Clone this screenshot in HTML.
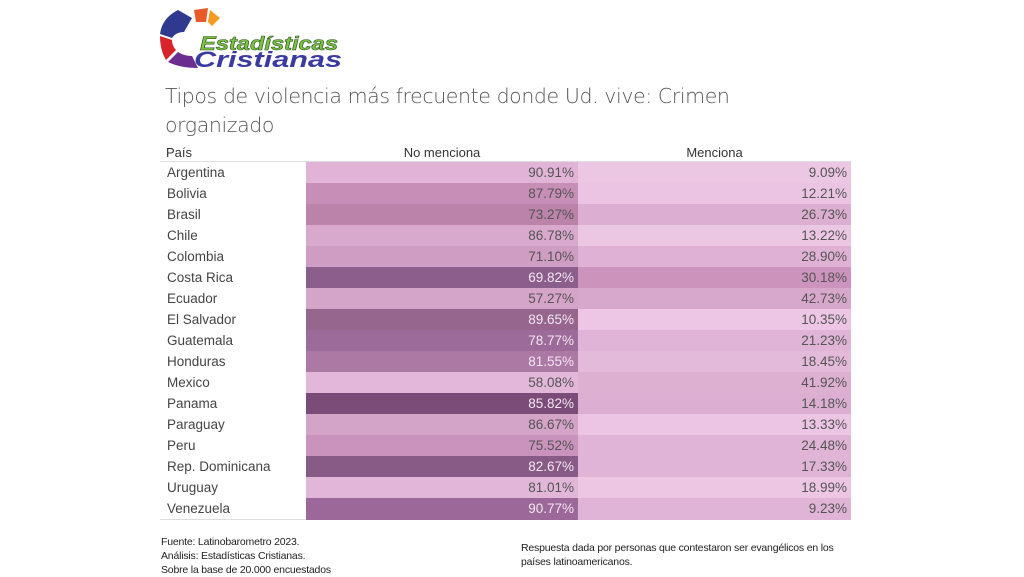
<!DOCTYPE html>
<html><head><meta charset="utf-8"><style>
body{margin:0;width:1024px;height:576px;background:#fff;position:relative;overflow:hidden;font-family:"Liberation Sans Narrow","Liberation Sans",sans-serif;}
.t{position:absolute;left:165px;top:82px;font-family:"DejaVu Sans","Liberation Sans",sans-serif;font-size:20.5px;color:#555;line-height:29px;font-weight:300;letter-spacing:-0.4px}
table{position:absolute;left:160px;top:144px;border-collapse:collapse;font-size:13.5px;color:#444}
td{height:21px;padding:0;line-height:21px}
td.n{width:146px;padding-left:7px;box-sizing:border-box;border-bottom:0}
td.a{width:272px;text-align:right;padding-right:4px;box-sizing:border-box;color:#555}
td.b{width:273px;text-align:right;padding-right:4px;box-sizing:border-box;color:#555}
th{font-weight:normal;height:15px;line-height:15px;font-size:13px;color:#333;border-bottom:1px solid #ddd}
.w{color:#f3e6f0!important}
.f{position:absolute;font-size:10.5px;color:#222;line-height:14px;font-family:"Liberation Sans Narrow","Liberation Sans",sans-serif;letter-spacing:-0.2px}
</style></head><body>
<svg style="position:absolute;left:158px;top:6px" width="200" height="62" viewBox="0 0 200 62">
<path d="M20 4 L34 12 L26 26 Q18 26 14 32 L2 28 Q4 12 20 4Z" fill="#2f3a8f"/>
<path d="M36 4 L50 2 L48 16 L38 16Z" fill="#e85a2a"/>
<path d="M52 4 L62 12 L54 20 L50 16Z" fill="#f59a20"/>
<path d="M2 30 L14 34 Q14 40 18 44 L8 54 Q2 44 2 30Z" fill="#d8232a"/>
<path d="M20 46 Q26 50 34 50 L40 62 Q22 62 10 56Z" fill="#6b2d8f"/>
<text x="42" y="44" font-family="Liberation Sans" font-weight="bold" font-style="italic" font-size="19" fill="#7dc242" stroke="#2a5a20" stroke-width="0.6" textLength="138" lengthAdjust="spacingAndGlyphs">Estadísticas</text>
<text x="36" y="61" font-family="Liberation Sans" font-weight="bold" font-style="italic" font-size="22" fill="#3a3aa0" textLength="148" lengthAdjust="spacingAndGlyphs">Cristianas</text>
</svg>
<div class="t">Tipos de violencia más frecuente donde Ud. vive: Crimen<br>organizado</div>
<table>
<tr><th style="text-align:left;padding-left:6px">País</th><th>No menciona</th><th>Menciona</th></tr>
<tr><td class="n">Argentina</td><td class="a" style="background:#e1b4d7">90.91%</td><td class="b" style="background:#ecc7e4">9.09%</td></tr>
<tr><td class="n">Bolivia</td><td class="a" style="background:#c78eb8">87.79%</td><td class="b" style="background:#eac4e2">12.21%</td></tr>
<tr><td class="n">Brasil</td><td class="a" style="background:#bb82aa">73.27%</td><td class="b" style="background:#dcaed1">26.73%</td></tr>
<tr><td class="n">Chile</td><td class="a" style="background:#d9a9cd">86.78%</td><td class="b" style="background:#ecc7e4">13.22%</td></tr>
<tr><td class="n">Colombia</td><td class="a" style="background:#cf9cc3">71.10%</td><td class="b" style="background:#dfb2d5">28.90%</td></tr>
<tr><td class="n">Costa Rica</td><td class="a w" style="background:#8c5e8c">69.82%</td><td class="b" style="background:#cc94bc">30.18%</td></tr>
<tr><td class="n">Ecuador</td><td class="a" style="background:#d5a4c9">57.27%</td><td class="b" style="background:#d8a8cc">42.73%</td></tr>
<tr><td class="n">El Salvador</td><td class="a w" style="background:#96668f">89.65%</td><td class="b" style="background:#ecc6e4">10.35%</td></tr>
<tr><td class="n">Guatemala</td><td class="a w" style="background:#9d6b99">78.77%</td><td class="b" style="background:#e0b4d6">21.23%</td></tr>
<tr><td class="n">Honduras</td><td class="a w" style="background:#ac78a4">81.55%</td><td class="b" style="background:#e4bada">18.45%</td></tr>
<tr><td class="n">Mexico</td><td class="a" style="background:#e3b7d9">58.08%</td><td class="b" style="background:#ddb0d2">41.92%</td></tr>
<tr><td class="n">Panama</td><td class="a w" style="background:#7a4c77">85.82%</td><td class="b" style="background:#dcafd2">14.18%</td></tr>
<tr><td class="n">Paraguay</td><td class="a" style="background:#d4a3c8">86.67%</td><td class="b" style="background:#ebc5e3">13.33%</td></tr>
<tr><td class="n">Peru</td><td class="a" style="background:#c993bd">75.52%</td><td class="b" style="background:#e0b4d6">24.48%</td></tr>
<tr><td class="n">Rep. Dominicana</td><td class="a w" style="background:#885a86">82.67%</td><td class="b" style="background:#e0b4d6">17.33%</td></tr>
<tr><td class="n">Uruguay</td><td class="a" style="background:#e2b6d8">81.01%</td><td class="b" style="background:#ecc6e3">18.99%</td></tr>
<tr><td class="n" style="border-bottom:1px solid #ddd">Venezuela</td><td class="a w" style="background:#9c6899">90.77%</td><td class="b" style="background:#e0b4d6">9.23%</td></tr>
</table>
<div class="f" style="left:161px;top:535px">Fuente: Latinobarometro 2023.<br>Análisis: Estadísticas Cristianas.<br>Sobre la base de 20.000 encuestados</div>
<div class="f" style="left:521px;top:541px">Respuesta dada por personas que contestaron ser evangélicos en los<br>países latinoamericanos.</div>
</body></html>
